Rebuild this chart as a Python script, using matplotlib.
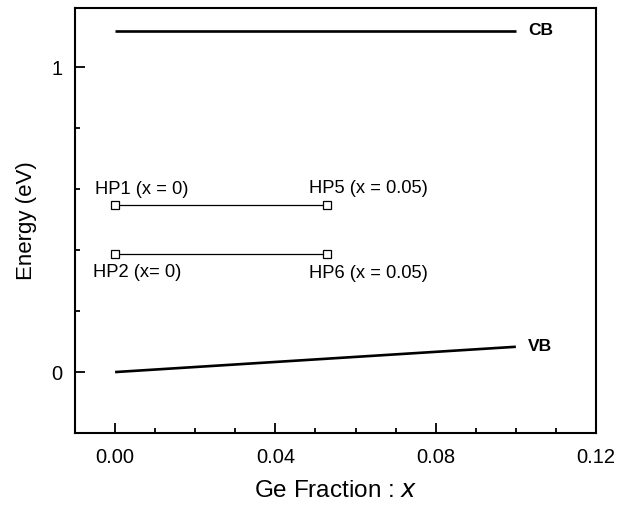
import matplotlib
matplotlib.use("Agg")
import matplotlib.pyplot as plt
from matplotlib.ticker import MultipleLocator, FixedLocator

plt.rcParams['font.family'] = ['Liberation Sans', 'DejaVu Sans']

# Data
cb_x = [0.0, 0.10]
cb_y = [1.12, 1.12]
vb_x = [0.0, 0.10]
vb_y = [0.0, 0.083]
hp_upper_x = [0.0, 0.053]
hp_upper_y = [0.548, 0.548]
hp_lower_x = [0.0, 0.053]
hp_lower_y = [0.389, 0.389]
hp_labels_upper = ["HP1 (x = 0)", "HP5 (x = 0.05)"]
hp_labels_lower = ["HP2 (x= 0)", "HP6 (x = 0.05)"]
xticks = [0.00, 0.04, 0.08, 0.12]
xtick_labels = ["0.00", "0.04", "0.08", "0.12"]
yticks = [0, 1]
ytick_labels = ["0", "1"]

fig = plt.figure(figsize=(6.19, 5.05), dpi=100)
ax = fig.add_axes([75/619, 72/505, (596-75)/619, (433-8)/505])

ax.plot(cb_x, cb_y, color='black', lw=1.9, solid_capstyle='butt')
ax.plot(vb_x, vb_y, color='black', lw=1.9, solid_capstyle='butt')
ax.plot(hp_upper_x, hp_upper_y, color='black', lw=0.9, marker='s', ms=6,
        mfc='white', mec='black', mew=0.9)
ax.plot(hp_lower_x, hp_lower_y, color='black', lw=0.9, marker='s', ms=6,
        mfc='white', mec='black', mew=0.9)

ax.text(cb_x[-1] + 0.003, cb_y[-1], "CB", fontsize=12.5, fontweight='bold',
        va='center', ha='left')
ax.text(vb_x[-1] + 0.003, vb_y[-1], "VB", fontsize=12.5, fontweight='bold',
        va='center', ha='left')

fs = 13.2
ax.text(hp_upper_x[0] - 0.005, hp_upper_y[0] + 0.05, hp_labels_upper[0],
        fontsize=fs, ha='left', va='center')
ax.text(hp_upper_x[1] - 0.0045, hp_upper_y[1] + 0.055, hp_labels_upper[1],
        fontsize=fs, ha='left', va='center')
ax.text(hp_lower_x[0] - 0.0055, hp_lower_y[0] - 0.062, hp_labels_lower[0],
        fontsize=fs, ha='left', va='center')
ax.text(hp_lower_x[1] - 0.0045, hp_lower_y[1] - 0.066, hp_labels_lower[1],
        fontsize=fs, ha='left', va='center')

ax.set_xlim(-0.01, 0.12)
ax.set_ylim(-0.2, 1.195)
ax.set_xticks(xticks)
ax.set_xticklabels(xtick_labels)
ax.xaxis.set_minor_locator(MultipleLocator(0.01))
ax.set_yticks(yticks)
ax.set_yticklabels(ytick_labels)
ax.yaxis.set_minor_locator(FixedLocator([0.2, 0.4, 0.6, 0.8]))

ax.tick_params(which='both', direction='in', top=False, right=False,
               width=1.3, labelsize=14.5)
ax.tick_params(axis='x', which='major', length=7, pad=11)
ax.tick_params(axis='y', which='major', length=7, pad=9)
ax.tick_params(which='minor', length=3.5)

for s in ax.spines.values():
    s.set_linewidth(1.5)

ax.set_xlabel("Ge Fraction : $\\it{x}$", fontsize=17.5, labelpad=9)
ax.set_ylabel("Energy (eV)", fontsize=16, labelpad=10)

fig.savefig("out.png", dpi=100)
